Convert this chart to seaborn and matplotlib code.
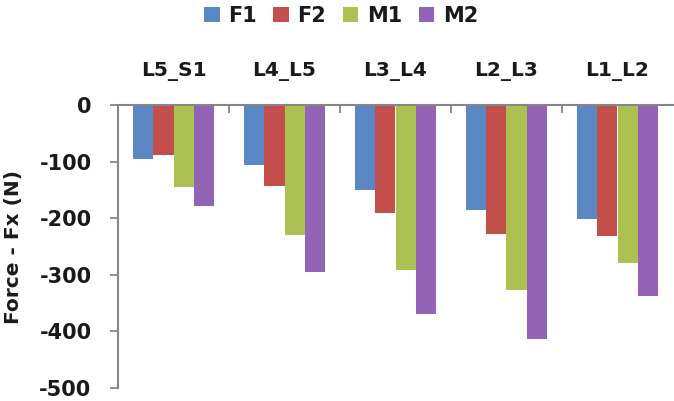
import matplotlib
matplotlib.use("Agg")
import matplotlib.pyplot as plt
import seaborn as sns
import pandas as pd

# Spinal levels and the four subject series (force in N)
levels = ["L5_S1", "L4_L5", "L3_L4", "L2_L3", "L1_L2"]
series = ["F1", "F2", "M1", "M2"]
f1 = [-95, -106, -151, -186, -202]
f2 = [-89, -143, -191, -228, -232]
m1 = [-145, -229, -292, -326, -280]
m2 = [-179, -295, -369, -413, -338]
y_ticks = [0, -100, -200, -300, -400, -500]
colors = ["#5B87C5", "#C44E4B", "#ACC152", "#9363B5"]

df = pd.DataFrame({"level": levels, "F1": f1, "F2": f2, "M1": m1, "M2": m2})
long = df.melt(id_vars="level", value_vars=series, var_name="series", value_name="force")

sns.set_style("white")
plt.rcParams["font.family"] = ["DejaVu Sans"]
plt.rcParams["font.weight"] = "bold"

W, H = 674, 401
fig = plt.figure(figsize=(W / 100, H / 100), dpi=100)
ax = fig.add_axes([118 / W, 1 - 388 / H, (673 - 118) / W, (388 - 105) / H])

sns.barplot(data=long, x="level", y="force", hue="series", order=levels,
            hue_order=series, palette=colors, saturation=1, width=0.726,
            gap=0, ax=ax, edgecolor="none", linewidth=0)

ax.set_ylim(-500, 0)
ax.set_xlim(-0.5, len(levels) - 0.5)
ax.set_yticks(y_ticks)
ax.set_yticklabels([str(v) for v in y_ticks])

axis_gray = "#868686"
for side in ["bottom", "right"]:
    ax.spines[side].set_visible(False)
for side in ["left", "top"]:
    ax.spines[side].set_color(axis_gray)
    ax.spines[side].set_linewidth(1.5)

# Category axis on top, labels above, dividing ticks between groups
ax.xaxis.tick_top()
ax.xaxis.set_label_position("top")
ax.set_xlabel("")
ax.set_xticks(range(len(levels)))
ax.set_xticklabels(levels)
ax.set_xticks([i + 0.5 for i in range(len(levels) - 1)], minor=True)
ax.tick_params(axis="x", which="major", length=0, pad=17, labelsize=14.5,
               top=True, bottom=False)
ax.tick_params(axis="x", which="minor", length=6, width=1.3, direction="in",
               color=axis_gray, top=True, bottom=False)
ax.tick_params(axis="y", which="major", length=6, width=1.3, direction="out",
               color=axis_gray, pad=13, labelsize=15, left=True)
for lab in ax.get_xticklabels() + ax.get_yticklabels():
    lab.set_fontweight("bold")
    lab.set_color("#1a1a1a")

ax.set_ylabel("Force - Fx (N)", fontsize=14.5, fontweight="bold", color="#1a1a1a")
ax.yaxis.set_label_coords(-0.172, 0.5)

handles, labels = ax.get_legend_handles_labels()
if ax.get_legend() is not None:
    ax.get_legend().remove()
fig.legend(handles, labels, loc="center", bbox_to_anchor=(341 / W, 1 - 16 / H),
           ncol=4, frameon=False, prop={"size": 15, "weight": "bold"},
           handlelength=0.75, handleheight=0.75, handletextpad=0.4,
           columnspacing=0.8, labelcolor="#1a1a1a")

fig.savefig("out.png", dpi=100)
